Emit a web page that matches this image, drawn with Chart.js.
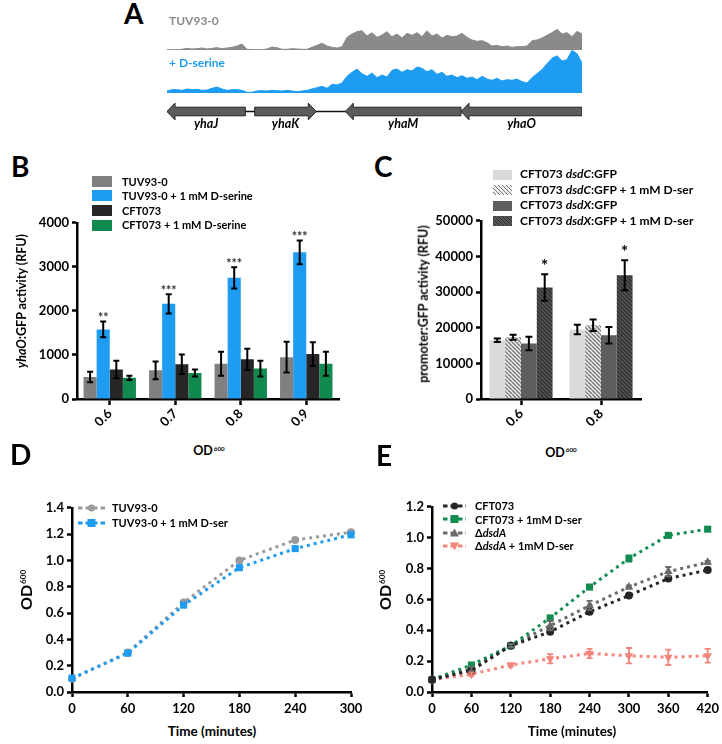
<!DOCTYPE html>
<html><head><meta charset="utf-8">
<script src="https://cdn.jsdelivr.net/npm/chart.js@4.4.1/dist/chart.umd.min.js"></script>
<style>
html,body{margin:0;padding:0;background:#fff;}
body{position:relative;width:722px;height:744px;overflow:hidden;font-family:Lato,"DejaVu Sans",sans-serif;}
canvas{position:absolute;}
.t{position:absolute;white-space:nowrap;line-height:1;font-weight:bold;color:#000;}
.sup{position:relative;top:-0.75em;font-size:0.5em;margin-left:1px;}
</style></head><body>
<script>
// ================= DATA =================
// Panel A: read coverage (arbitrary units), 84 bins across the locus
const covGray = [1,1,1,2,5,3,4,6,3,5, 7,4,6,8,12,18,2,1,1,1, 3,9,7,2,2,4,3,2,2,8,
  14,20,12,8,6,10,38,48,55,58, 42,52,38,45,55,40,48,36,50,44, 52,40,58,42,48,36,44,40,42,50,
  38,30,26,28,22,12,14,10,12,8, 10,10,12,28,30,36,44,52,62,48, 52,40,56,48];
const covBlue = [6,10,10,8,12,10,11,8,9,14, 18,12,8,10,10,8,2,2,6,7, 6,8,7,6,8,6,4,6,8,12,
  16,20,14,26,24,30,50,62,72,58, 50,60,46,54,48,68,72,62,70,66, 78,74,64,70,56,62,50,54,46,52,
  44,48,40,50,42,38,44,36,40,38, 42,34,30,46,58,70,88,104,112,96, 100,128,118,90];
const covBinSize = 50; // bp per bin
const trackNames = ['TUV93-0', '+ D-serine'];
const geneNames = ['yhaJ', 'yhaK', 'yhaM', 'yhaO'];
const geneStart = [0, 877, 1783, 2940];
const geneEnd = [783, 1493, 2940, 4150];
const geneStrand = [-1, 1, -1, -1];

// Panel B
const bCats = ['0.6', '0.7', '0.8', '0.9'];
const bSeries = ['TUV93-0', 'TUV93-0 + 1 mM D-serine', 'CFT073', 'CFT073 + 1 mM D-serine'];
const bTuv = [500, 650, 800, 950];
const bTuvErr = [120, 200, 270, 350];
const bTuvDser = [1580, 2160, 2750, 3330];
const bTuvDserErr = [180, 220, 240, 270];
const bCft = [670, 790, 900, 1020];
const bCftErr = [200, 220, 240, 270];
const bCftDser = [480, 590, 690, 800];
const bCftDserErr = [50, 80, 180, 270];
const bSig = ['**', '***', '***', '***'];
const bTicks = [0, 1000, 2000, 3000, 4000];

// Panel C
const cCats = ['0.6', '0.8'];
const cSeries = ['CFT073 <i>dsdC</i>:GFP', 'CFT073 <i>dsdC</i>:GFP + 1 mM D-ser', 'CFT073 <i>dsdX</i>:GFP', 'CFT073 <i>dsdX</i>:GFP + 1 mM D-ser'];
const cDsdC = [16500, 19500];
const cDsdCErr = [500, 1300];
const cDsdCDser = [17300, 20700];
const cDsdCDserErr = [700, 1600];
const cDsdX = [15600, 17900];
const cDsdXErr = [1900, 2300];
const cDsdXDser = [31300, 34700];
const cDsdXDserErr = [3700, 4200];
const cSig = ['*', '*'];

// Panel D
const dTime = [0, 60, 120, 180, 240, 300];
const dSeries = ['TUV93-0', 'TUV93-0 + 1 mM D-ser'];
const dTuv = [0.10, 0.30, 0.68, 1.00, 1.155, 1.215];
const dTuvDser = [0.105, 0.295, 0.66, 0.945, 1.09, 1.195];

// Panel E
const eTime = [0, 60, 120, 180, 240, 300, 360, 420];
const eSeries = ['CFT073', 'CFT073 + 1mM D-ser', '&Delta;<i>dsdA</i>', '&Delta;<i>dsdA</i> + 1mM D-ser'];
const eCft = [0.08, 0.14, 0.30, 0.39, 0.52, 0.625, 0.735, 0.79];
const eCftErr = [0, 0.005, 0.005, 0.01, 0.01, 0.01, 0.01, 0.01];
const eCftDser = [0.08, 0.175, 0.30, 0.48, 0.68, 0.865, 1.015, 1.055];
const eCftDserErr = [0, 0.01, 0.01, 0.01, 0.01, 0.02, 0.01, 0.01];
const eDsdA = [0.08, 0.15, 0.30, 0.43, 0.56, 0.68, 0.78, 0.84];
const eDsdAErr = [0, 0.015, 0.01, 0.03, 0.03, 0.01, 0.03, 0.01];
const eDsdADser = [0.08, 0.115, 0.175, 0.215, 0.25, 0.235, 0.225, 0.235];
const eDsdADserErr = [0, 0.01, 0.01, 0.03, 0.03, 0.05, 0.05, 0.045];

// ================= STYLE =================
const FONT = 'Lato, "DejaVu Sans", sans-serif';
Chart.defaults.font.family = FONT;
Chart.defaults.color = '#000';
const colGray = '#8a8a8a', colBlue = '#1e9cf2';
const bColors = ['#808080', '#1e9cf2', '#262626', '#108a4f'];
const dColors = ['#9a9a9a', '#1e9cf2'];
const eColors = ['#262626', '#138c50', '#6a6a6a', '#f2857c'];

function addText(html, x, base, size, o = {}) {
  const d = document.createElement('div');
  d.className = 't'; d.innerHTML = html;
  d.style.fontSize = size + 'px';
  d.style.left = x + 'px';
  d.style.top = (base - 0.887 * size) + 'px';
  if (o.color) d.style.color = o.color;
  if (o.weight) d.style.fontWeight = o.weight;
  if (o.center) d.style.transform = 'translateX(-50%)';
  document.body.appendChild(d); return d;
}
function addRot(html, cx, cy, size) {
  const d = document.createElement('div');
  d.className = 't'; d.innerHTML = html;
  d.style.fontSize = size + 'px';
  d.style.left = cx + 'px'; d.style.top = cy + 'px';
  d.style.transform = 'translate(-50%,-50%) rotate(-90deg)';
  document.body.appendChild(d); return d;
}
function mkCanvas(left, top, w, h) {
  const c = document.createElement('canvas');
  c.width = w; c.height = h;
  c.style.left = left + 'px'; c.style.top = top + 'px';
  c.style.width = w + 'px'; c.style.height = h + 'px';
  document.body.appendChild(c);
  return c.getContext('2d');
}
function swatch(left, top, w, h, bg) {
  const d = document.createElement('div');
  d.style.cssText = `position:absolute;left:${left}px;top:${top}px;width:${w}px;height:${h}px;background:${bg};`;
  document.body.appendChild(d);
}
function lineSwatch(left, cy, w, color, marker) {
  const ns = 'http://www.w3.org/2000/svg';
  const s = document.createElementNS(ns, 'svg');
  s.setAttribute('width', w); s.setAttribute('height', 12);
  s.style.cssText = `position:absolute;left:${left}px;top:${cy - 6}px;`;
  let m = '';
  const c = w / 2;
  if (marker === 'circle') m = `<circle cx="${c}" cy="6" r="3.6" fill="${color}"/>`;
  if (marker === 'rect') m = `<rect x="${c - 4}" y="2" width="8" height="8" fill="${color}"/>`;
  if (marker === 'tri') m = `<polygon points="${c},1.5 ${c + 4.5},9.5 ${c - 4.5},9.5" fill="${color}"/>`;
  if (marker === 'tridown') m = `<polygon points="${c},10.5 ${c + 4.5},2.5 ${c - 4.5},2.5" fill="${color}"/>`;
  s.innerHTML = `<line x1="0" y1="6" x2="${w}" y2="6" stroke="${color}" stroke-width="3" stroke-dasharray="4.5 3"/>` + m;
  document.body.appendChild(s);
}
function hatch(bg, fg, size, lw) {
  const c = document.createElement('canvas'); c.width = size; c.height = size;
  const x = c.getContext('2d');
  x.fillStyle = bg; x.fillRect(0, 0, size, size);
  x.strokeStyle = fg; x.lineWidth = lw;
  x.beginPath();
  for (const k of [-size, 0, size]) { x.moveTo(k, 0); x.lineTo(k + size, size); }
  x.stroke();
  return x.createPattern(c, 'repeat');
}

const errorBars = {
  id: 'errorBars',
  afterDatasetsDraw(chart) {
    const { ctx } = chart; const y = chart.scales.y;
    chart.data.datasets.forEach((ds, di) => {
      if (!ds.errors) return;
      const meta = chart.getDatasetMeta(di);
      ctx.save();
      ctx.strokeStyle = ds.errorColor || '#000';
      ctx.lineWidth = ds.errorWidth || 2;
      meta.data.forEach((el, i) => {
        const raw = ds.data[i]; const v = typeof raw === 'object' ? raw.y : raw;
        const e = ds.errors[i];
        const cap = ds.errorCap || 3;
        let yt = y.getPixelForValue(v);
        if (e) {
          yt = y.getPixelForValue(v + e); const yb = y.getPixelForValue(v - e);
          ctx.beginPath();
          ctx.moveTo(el.x, yt); ctx.lineTo(el.x, yb);
          ctx.moveTo(el.x - cap, yt); ctx.lineTo(el.x + cap, yt);
          ctx.moveTo(el.x - cap, yb); ctx.lineTo(el.x + cap, yb);
          ctx.stroke();
        }
        if (ds.stars && ds.stars[i]) {
          ctx.fillStyle = ds.starColor || '#000';
          ctx.font = ds.starFont;
          ctx.textAlign = 'center'; ctx.textBaseline = 'alphabetic';
          ctx.fillText(ds.stars[i], el.x, yt + (ds.starOffset || 0));
        }
      });
      ctx.restore();
    });
  }
};

const base = { responsive: false, animation: false, devicePixelRatio: 1, events: [],
  plugins: { legend: { display: false }, tooltip: { enabled: false } } };
const tickFont = { family: FONT, size: 13, weight: 'bold' };
function yAxis(min, max, step, width, fmt) {
  return { min, max, ticks: { stepSize: step, font: tickFont, color: '#000', padding: 3, callback: fmt },
    grid: { drawOnChartArea: false, tickLength: 5, tickWidth: 2.5, tickColor: '#000', color: '#000' },
    border: { display: true, color: '#000', width: 2.5 },
    afterFit: s => { s.width = width; } };
}
function xCat(height) {
  return { type: 'category', offset: true,
    grid: { offset: false, drawOnChartArea: false, tickLength: 6, tickWidth: 2.5, tickColor: '#000', color: '#000' },
    border: { display: true, color: '#000', width: 2.5 },
    ticks: { font: tickFont, color: '#000', minRotation: 45, maxRotation: 45, autoSkip: false, padding: 1 },
    afterFit: s => { s.height = height; } };
}
function xLin(max, height) {
  return { type: 'linear', min: 0, max, ticks: { stepSize: 60, font: tickFont, color: '#000', padding: 4 },
    grid: { drawOnChartArea: false, tickLength: 5, tickWidth: 2.5, tickColor: '#000', color: '#000' },
    border: { display: true, color: '#000', width: 2.5 },
    afterFit: s => { s.height = height; } };
}

// ================= PANEL A =================
const covPos = covGray.map((_, i) => i * covBinSize);
function track(top, h, vals, color, ymax) {
  new Chart(mkCanvas(167, top, 415, h), {
    type: 'line',
    data: { labels: covPos, datasets: [{ data: vals.map((v, i) => ({ x: covPos[i], y: v })),
      borderColor: color, backgroundColor: color, borderWidth: 1, fill: 'origin', pointRadius: 0, tension: 0 }] },
    options: { ...base, layout: { padding: 0 },
      scales: { x: { type: 'linear', min: 0, max: covPos[covPos.length - 1], display: false },
        y: { min: 0, max: ymax, display: false } } }
  });
}
track(28, 22, covGray, colGray, 66);
track(49, 44, covBlue, colBlue, 132);

const genePlugin = {
  id: 'genes',
  afterDraw(chart) {
    const { ctx, chartArea } = chart; const x = chart.scales.x;
    const cy = chartArea.top + 11.5;
    ctx.save();
    ctx.strokeStyle = '#111'; ctx.lineWidth = 1.5;
    ctx.beginPath();
    ctx.moveTo(x.getPixelForValue(geneStart[0]), cy);
    ctx.lineTo(x.getPixelForValue(geneEnd[geneEnd.length - 1]), cy); ctx.stroke();
    geneNames.forEach((name, i) => {
      const a = x.getPixelForValue(geneStart[i]), b = x.getPixelForValue(geneEnd[i]);
      const bh = 4.3, hh = 8.3, hl = 8;
      ctx.beginPath();
      if (geneStrand[i] < 0) {
        ctx.moveTo(a, cy); ctx.lineTo(a + hl, cy - hh); ctx.lineTo(a + hl, cy - bh); ctx.lineTo(b, cy - bh);
        ctx.lineTo(b, cy + bh); ctx.lineTo(a + hl, cy + bh); ctx.lineTo(a + hl, cy + hh);
      } else {
        ctx.moveTo(b, cy); ctx.lineTo(b - hl, cy - hh); ctx.lineTo(b - hl, cy - bh); ctx.lineTo(a, cy - bh);
        ctx.lineTo(a, cy + bh); ctx.lineTo(b - hl, cy + bh); ctx.lineTo(b - hl, cy + hh);
      }
      ctx.closePath();
      ctx.fillStyle = '#5c5c5c'; ctx.fill();
      ctx.strokeStyle = '#222'; ctx.lineWidth = 1; ctx.stroke();
      ctx.fillStyle = '#000'; ctx.font = 'italic bold 12.5px ' + FONT;
      ctx.textAlign = 'center'; ctx.textBaseline = 'alphabetic';
      ctx.fillText(name, (a + b) / 2, cy + 16.5);
    });
    ctx.restore();
  }
};
new Chart(mkCanvas(167, 100, 415, 36), {
  type: 'line', data: { datasets: [] },
  options: { ...base, layout: { padding: 0 },
    scales: { x: { type: 'linear', min: 0, max: covPos[covPos.length - 1], display: false }, y: { display: false, min: 0, max: 1 } } },
  plugins: [genePlugin]
});
addText('A', 124, 24, 28);
addText(trackNames[0], 169, 26, 12, { color: colGray });
addText(trackNames[1], 169, 68, 12, { color: colBlue });

// ================= PANEL B =================
const bErrs = [bTuvErr, bTuvDserErr, bCftErr, bCftDserErr];
const bVals = [bTuv, bTuvDser, bCft, bCftDser];
new Chart(mkCanvas(0, 212, 349, 227), {
  type: 'bar',
  data: { labels: bCats, datasets: bVals.map((v, k) => ({
    label: bSeries[k], data: v, backgroundColor: bColors[k], borderWidth: 0,
    categoryPercentage: 0.8, barPercentage: 1.0, errors: bErrs[k], errorCap: 3,
    stars: k === 1 ? bSig : null, starFont: 'bold 12.5px ' + FONT, starColor: '#333', starOffset: 1 })) },
  options: { ...base, layout: { padding: { top: 10, right: 10, left: 0, bottom: 0 } },
    scales: { x: xCat(40), y: yAxis(0, bTicks[bTicks.length - 1], 1000, 77) } },
  plugins: [errorBars]
});
addText('B', 11, 177, 28);
bSeries.forEach((s, k) => {
  const cy = 181.3 + 14.6 * k;
  swatch(92, cy - 5.5, 20, 11, bColors[k]);
  addText(s, 122, cy + 4, 11);
});
addRot('<i>yhaO</i>:GFP activity (RFU)', 22, 301, 12.5);
addText('OD<span class="sup">600</span>', 209, 456.5, 12.5, { center: true });

// ================= PANEL C =================
const cLightHatch = hatch('#ececec', '#7a7a7a', 4, 1.4);
const cDarkHatch = hatch('#555555', '#2f2f2f', 4, 1.4);
const cColors = ['#d9d9d9', cLightHatch, '#5e5e5e', cDarkHatch];
const cCss = ['#d9d9d9', 'repeating-linear-gradient(45deg,#ececec 0 1.6px,#7a7a7a 1.6px 2.8px)',
  '#5e5e5e', 'repeating-linear-gradient(45deg,#555 0 1.6px,#2f2f2f 1.6px 2.8px)'];
const cVals = [cDsdC, cDsdCDser, cDsdX, cDsdXDser];
const cErrs = [cDsdCErr, cDsdCDserErr, cDsdXErr, cDsdXDserErr];
new Chart(mkCanvas(360, 210, 291, 229), {
  type: 'bar',
  data: { labels: cCats, datasets: cVals.map((v, k) => ({
    label: cSeries[k], data: v, backgroundColor: cColors[k], borderWidth: 0,
    categoryPercentage: 0.79, barPercentage: 1.0, errors: cErrs[k], errorCap: 3.5,
    stars: k === 3 ? cSig : null, starFont: 'bold 17px ' + FONT, starColor: '#000', starOffset: -2 })) },
  options: { ...base, layout: { padding: { top: 10, right: 10, left: 0, bottom: 0 } },
    scales: { x: xCat(40), y: yAxis(0, 50000, 10000, 121) } },
  plugins: [errorBars]
});
addText('C', 374, 177, 28);
cSeries.forEach((s, k) => {
  const cy = 174.5 + 15.5 * k;
  swatch(493, cy - 5, 19, 10, cCss[k]);
  addText(s, 520, cy + 4.5, 12);
});
addRot('promoter:GFP activity (RFU)', 424, 304, 12.5);
addText('OD<span class="sup">600</span>', 561, 458, 12.5, { center: true });

// ================= PANEL D =================
const dVals = [dTuvDser, dTuv];
const dCol = [dColors[1], dColors[0]];
const dStyle = ['rect', 'circle'];
new Chart(mkCanvas(0, 497, 371, 225), {
  type: 'line',
  data: { datasets: dVals.map((v, k) => ({
    label: k === 0 ? dSeries[1] : dSeries[0],
    data: v.map((y, i) => ({ x: dTime[i], y })), borderColor: dCol[k], backgroundColor: dCol[k],
    borderWidth: 3, borderDash: [3, 4], pointStyle: dStyle[k], pointRadius: k === 0 ? 5 : 4,
    pointBorderWidth: 0, tension: 0, clip: false })) },
  options: { ...base, layout: { padding: { top: 10, right: 20, left: 0, bottom: 0 } },
    scales: { x: xLin(300, 30), y: yAxis(0, 1.4, 0.2, 72, v => v.toFixed(1)) } }
});
addText('D', 10, 465, 28);
dSeries.forEach((s, k) => {
  const cy = 508 + 15 * k;
  lineSwatch(78, cy, 27, dColors[k], k === 0 ? 'circle' : 'rect');
  addText(s, 112, cy + 4, 11);
});
addRot('OD<span class="sup">600</span>', 26, 590, 16);
addText('Time (minutes)', 212, 737, 13.5, { center: true });

// ================= PANEL E =================
const eVals = [eCft, eCftDser, eDsdA, eDsdADser];
const eErrs = [eCftErr, eCftDserErr, eDsdAErr, eDsdADserErr];
const eStyle = ['circle', 'rect', 'triangle', 'triangle'];
new Chart(mkCanvas(360, 496, 363, 226), {
  type: 'line',
  data: { datasets: eVals.map((v, k) => ({
    label: eSeries[k], data: v.map((y, i) => ({ x: eTime[i], y })), borderColor: eColors[k], backgroundColor: eColors[k],
    borderWidth: 3, borderDash: [3, 4], pointStyle: eStyle[k], pointRotation: k === 3 ? 180 : 0,
    pointRadius: k === 0 ? 4 : 5, pointBorderWidth: 0, tension: 0, clip: false,
    errors: eErrs[k], errorColor: eColors[k], errorCap: 3, errorWidth: 1.8 })) },
  options: { ...base, layout: { padding: { top: 10, right: 12, left: 0, bottom: 0 } },
    scales: { x: xLin(420, 30), y: yAxis(0, 1.2, 0.2, 72, v => v.toFixed(1)) } },
  plugins: [errorBars]
});
addText('E', 376, 466, 28);
const eMarks = ['circle', 'rect', 'tri', 'tridown'];
eSeries.forEach((s, k) => {
  const cy = 506 + 13.3 * k;
  lineSwatch(443, cy, 23, eColors[k], eMarks[k]);
  addText(s, 475, cy + 4, 11);
});
addRot('OD<span class="sup">600</span>', 385, 590, 16);
addText('Time (minutes)', 572, 737, 13.5, { center: true });
</script>
</body></html>
